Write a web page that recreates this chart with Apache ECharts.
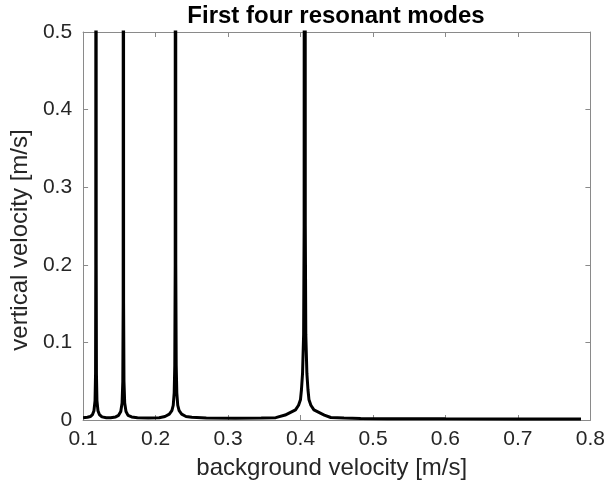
<!DOCTYPE html>
<html>
<head>
<meta charset="utf-8">
<script src="https://cdn.jsdelivr.net/npm/echarts@6/dist/echarts.min.js"></script>
<style>html,body{margin:0;padding:0;background:#fff}#c{width:608px;height:492px}</style>
</head>
<body>
<div id="c"></div>
<script>
const titleText = "First four resonant modes";
const xName = "background velocity [m/s]";
const yName = "vertical velocity [m/s]";
const xTicks = [0.1, 0.2, 0.3, 0.4, 0.5, 0.6, 0.7, 0.8];
const yTicks = [0, 0.1, 0.2, 0.3, 0.4, 0.5];

const velocityX = [
  0.100, 0.106, 0.110, 0.113, 0.115, 0.1165, 0.1172, 0.1175, 0.1178, 0.1181, 0.1184, 0.1191, 0.1205, 0.1225, 0.126, 0.132,
  0.138, 0.145, 0.149, 0.152, 0.1538, 0.1548, 0.1553, 0.1556, 0.1559, 0.1564, 0.1574, 0.1592, 0.162, 0.167, 0.175,
  0.190, 0.205, 0.213, 0.219, 0.2225, 0.2244, 0.2257, 0.2265, 0.2271, 0.2275, 0.2279, 0.2285, 0.2293, 0.2306, 0.2325, 0.236, 0.242, 0.250,
  0.270, 0.310, 0.3458, 0.3658, 0.3788, 0.3931, 0.3973, 0.3999, 0.4013, 0.4028, 0.4043, 0.4050, 0.4058,
  0.4066, 0.4073, 0.4088, 0.4103, 0.4117, 0.4143, 0.4185, 0.4328, 0.4418, 0.460, 0.483, 0.520, 0.600, 0.700, 0.787
];
const verticalY = [
  0.003, 0.0035, 0.0045, 0.007, 0.012, 0.025, 0.06, 0.2, 2.0, 0.2, 0.06, 0.025, 0.012, 0.007, 0.004, 0.003,
  0.003, 0.004, 0.006, 0.011, 0.022, 0.05, 0.15, 2.0, 0.15, 0.05, 0.022, 0.011, 0.006, 0.004, 0.003,
  0.0025, 0.003, 0.0045, 0.0075, 0.012, 0.019, 0.035, 0.07, 0.2, 2.5, 0.2, 0.07, 0.035, 0.019, 0.012, 0.0075, 0.0045, 0.0035,
  0.0025, 0.0022, 0.0025, 0.003, 0.0064, 0.013, 0.019, 0.026, 0.039, 0.06, 0.11, 0.25, 3.0,
  0.25, 0.11, 0.06, 0.039, 0.026, 0.019, 0.013, 0.0064, 0.0032, 0.0026, 0.002, 0.0017, 0.0015, 0.0013, 0.0012
];

const seriesData = velocityX.map((x, i) => [x, verticalY[i]]);

const font = "'Liberation Sans', Arial, Helvetica, sans-serif";
const txt = '#262626';
const axc = '#8a8a8a';

const chart = echarts.init(document.getElementById('c'), null, {renderer: 'canvas'});
const baseX = {
  type: 'value', min: 0.1, max: 0.8, interval: 0.1,
  axisLine: {show: true, onZero: false, lineStyle: {color: axc, width: 1}},
  axisTick: {show: true, inside: true, length: 5, lineStyle: {color: axc}},
  splitLine: {show: false}
};
const baseY = {
  type: 'value', min: 0, max: 0.5, interval: 0.1,
  axisLine: {show: true, onZero: false, lineStyle: {color: axc, width: 1}},
  axisTick: {show: true, inside: true, length: 5, lineStyle: {color: axc}},
  splitLine: {show: false}
};
chart.setOption({
  animation: false,
  backgroundColor: '#fff',
  title: {
    text: titleText, left: 336, top: 4, padding: 0, textAlign: 'center',
    textStyle: {fontFamily: font, fontWeight: 'bold', fontSize: 24, color: '#000'}
  },
  grid: {left: 80, top: 32, right: 16, bottom: 72, containLabel: false},
  xAxis: [
    Object.assign({}, baseX, {
      position: 'bottom', name: xName, nameLocation: 'middle', nameGap: 36,
      nameTextStyle: {fontFamily: font, fontSize: 24, color: txt, padding: [0, 10, 0, 0]},
      axisLabel: {show: true, margin: 9, fontFamily: font, fontSize: 21, color: txt,
        formatter: v => { const t = xTicks.find(k => Math.abs(k - v) < 1e-9); return t === undefined ? '' : String(t); }}
    }),
    Object.assign({}, baseX, {position: 'top', axisLabel: {show: false}})
  ],
  yAxis: [
    Object.assign({}, baseY, {
      position: 'left', name: yName, nameLocation: 'middle', nameGap: 44,
      nameTextStyle: {fontFamily: font, fontSize: 24, color: txt, padding: [0, 28, 0, 0]},
      axisLabel: {show: true, margin: 11, fontFamily: font, fontSize: 21, color: txt,
        formatter: v => { const t = yTicks.find(k => Math.abs(k - v) < 1e-9); return t === undefined ? '' : String(t); }}
    }),
    Object.assign({}, baseY, {position: 'right', axisLabel: {show: false}})
  ],
  series: [{
    type: 'line', xAxisIndex: 0, yAxisIndex: 0,
    data: seriesData, showSymbol: false, symbol: 'none', clip: true,
    lineStyle: {color: '#000', width: 3}
  }]
});
</script>
</body>
</html>
